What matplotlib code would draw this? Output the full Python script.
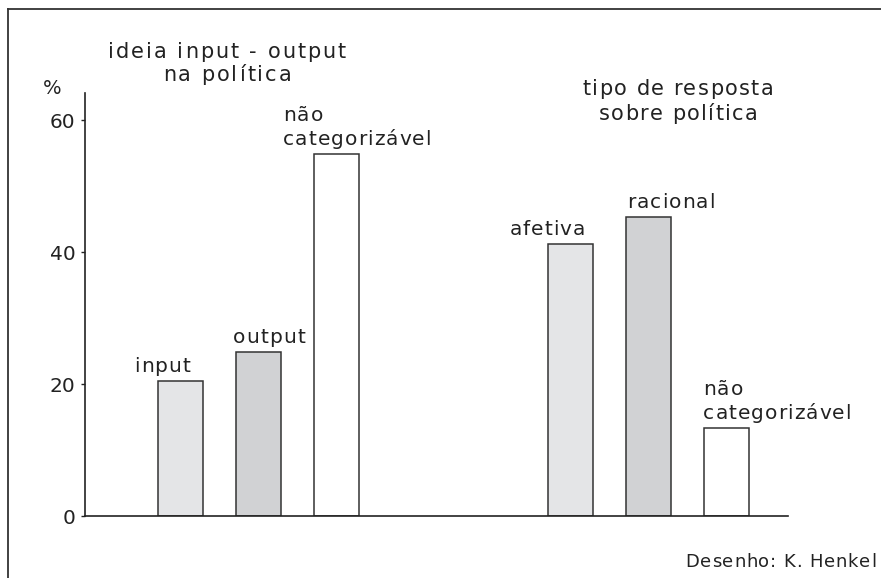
import matplotlib.pyplot as plt
from matplotlib.lines import Line2D
from matplotlib.font_manager import FontProperties
from matplotlib.transforms import offset_copy

# data
labels = ["input", "output", "não\ncategorizável",
          "afetiva", "racional", "não\ncategorizável"]
values = [20.5, 24.9, 54.8, 41.2, 45.3, 13.3]
positions = [1, 2, 3, 6, 7, 8]
colors = ["#e4e5e7", "#d1d2d4", "#ffffff", "#e4e5e7", "#d1d2d4", "#ffffff"]
yticks = [0, 20, 40, 60]
# horizontal offset of each label (pixels, from bar centre to label's left edge)
label_dx = [-46, -25, -53, -61, -21, -23]

ink = "#222222"
plt.rcParams["font.family"] = "DejaVu Sans"

fig = plt.figure(figsize=(8.81, 5.78), dpi=100)
renderer = fig.canvas.get_renderer()


def tracked_text(x, y, text, transform, size, track, ha="left",
                 dx=0, dy=0, line_gap=24):
    """Draw text letter by letter with extra spacing; y is the last baseline."""
    prop = FontProperties(family="DejaVu Sans", size=size)
    lines = text.split("\n")
    for i, line in enumerate(lines):
        widths = [renderer.get_text_width_height_descent(c, prop, ismath=False)[0]
                  for c in line]
        total = sum(widths) + track * (len(line) - 1)
        if ha == "center":
            x0 = dx - total / 2
        elif ha == "right":
            x0 = dx - total
        else:
            x0 = dx
        y0 = dy + (len(lines) - 1 - i) * line_gap
        for c, w in zip(line, widths):
            tr = offset_copy(transform, fig=fig, x=x0, y=y0, units="dots")
            fig.text(x, y, c, transform=tr, fontproperties=prop, color=ink,
                     ha="left", va="baseline")
            x0 += w + track


ax = fig.add_axes([85 / 881, 1 - 516 / 578, (788 - 85) / 881, (516 - 93) / 578])

ax.bar(positions, values, width=0.58, color=colors, edgecolor="#333333",
       linewidth=1.1, zorder=2)

ax.set_xlim(-0.22, 8.79)
ax.set_ylim(0, 64.1)
ax.set_yticks(yticks)
ax.set_xticks([])
for s in ["top", "right"]:
    ax.spines[s].set_visible(False)
for s in ["left", "bottom"]:
    ax.spines[s].set_color(ink)
    ax.spines[s].set_linewidth(1.2)
ax.tick_params(axis="y", direction="out", length=3, width=1, color=ink,
               labelsize=14.5, labelcolor=ink, pad=4)

for x, v, lab, dx in zip(positions, values, labels, label_dx):
    tracked_text(x, v, lab, ax.transData, 14.5, 1.0, dx=dx, dy=9, line_gap=24)

# group titles and notes (figure pixel coordinates, baseline of last line)
fig_px = fig.dpi_scale_trans
tracked_text(227 / 100, (578 - 81) / 100, "ideia input - output\nna política",
             fig_px, 15, 2.0, ha="center", line_gap=23)
tracked_text(678 / 100, (578 - 120) / 100, "tipo de resposta\nsobre política",
             fig_px, 15, 1.4, ha="center", line_gap=25)
fig.text(52 / 881, 1 - 88 / 578, "%", ha="center", va="center",
         fontsize=14, color=ink)
tracked_text(876 / 100, (578 - 567) / 100, "Desenho: K. Henkel",
             fig_px, 13, 0.8, ha="right")

# frame lines (top and left)
fig.add_artist(Line2D([8 / 881, 1], [1 - 9 / 578, 1 - 9 / 578],
                      transform=fig.transFigure, color="#333333", lw=1.3))
fig.add_artist(Line2D([8 / 881, 8 / 881], [0, 1 - 9 / 578],
                      transform=fig.transFigure, color="#333333", lw=1.3))

fig.savefig("out.png", dpi=100, facecolor="white")
